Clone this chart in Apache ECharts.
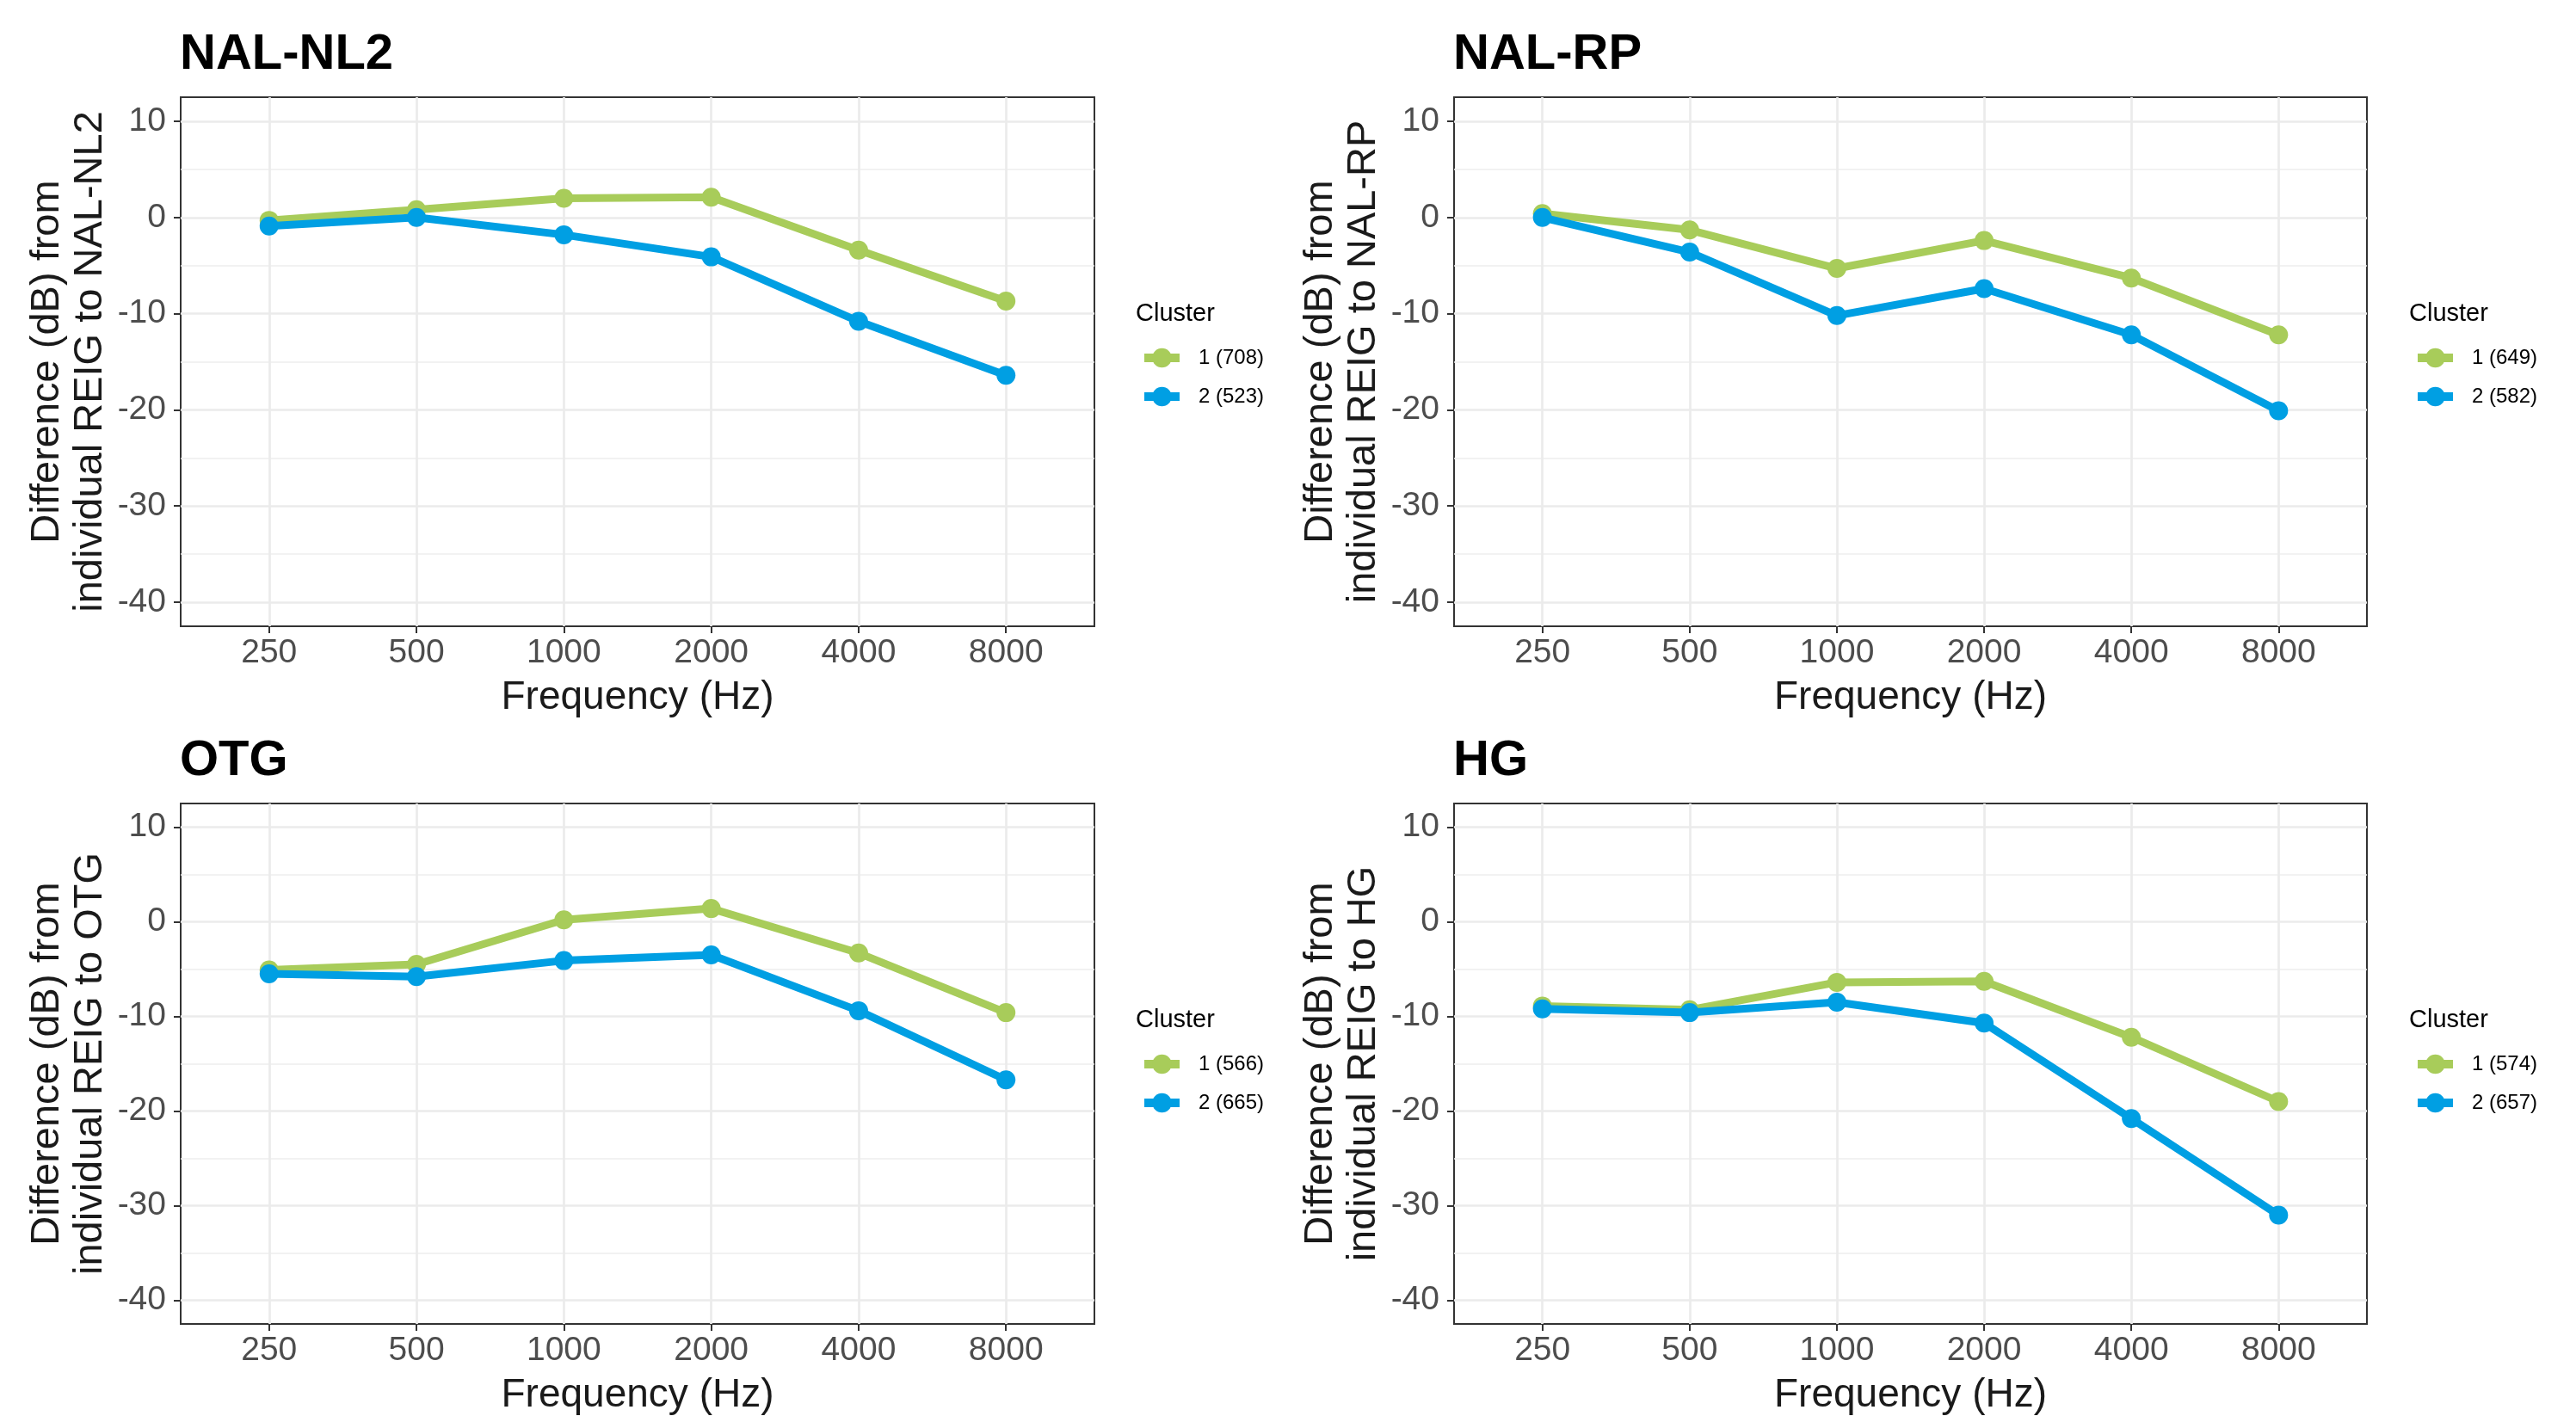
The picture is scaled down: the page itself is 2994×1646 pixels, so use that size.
<!DOCTYPE html>
<html>
<head>
<meta charset="utf-8">
<style>
html,body{margin:0;padding:0;background:#fff;}
#chart{width:2994px;height:1646px;}
</style>
<script src="https://cdn.jsdelivr.net/npm/echarts@6/dist/echarts.min.js"></script>
</head>
<body>
<div id="chart"></div>
<script>
// ---- data ----
const frequencies = ['250', '500', '1000', '2000', '4000', '8000'];
const panelTitles = ['NAL-NL2', 'NAL-RP', 'OTG', 'HG'];
const yTitles = [
  'Difference (dB) from\nindividual REIG to NAL-NL2',
  'Difference (dB) from\nindividual REIG to NAL-RP',
  'Difference (dB) from\nindividual REIG to OTG',
  'Difference (dB) from\nindividual REIG to HG'
];
const xTitle = 'Frequency (Hz)';
const legendTitle = 'Cluster';
const cluster1Labels = ['1 (708)', '1 (649)', '1 (566)', '1 (574)'];
const cluster2Labels = ['2 (523)', '2 (582)', '2 (665)', '2 (657)'];

const nalnl2Cluster1 = [-0.3, 0.8, 2.0, 2.1, -3.4, -8.7];
const nalnl2Cluster2 = [-0.9, 0.0, -1.8, -4.1, -10.8, -16.4];
const nalrpCluster1 = [0.4, -1.3, -5.3, -2.4, -6.3, -12.2];
const nalrpCluster2 = [0.0, -3.6, -10.2, -7.4, -12.2, -20.1];
const otgCluster1 = [-5.1, -4.5, 0.2, 1.4, -3.3, -9.6];
const otgCluster2 = [-5.5, -5.8, -4.1, -3.5, -9.4, -16.7];
const hgCluster1 = [-8.9, -9.3, -6.4, -6.3, -12.2, -19.0];
const hgCluster2 = [-9.2, -9.6, -8.5, -10.7, -20.8, -31.0];

const yMajorTicks = [-40, -30, -20, -10, 0, 10];
const yMinorTicks = [-35, -25, -15, -5, 5];

const cluster1Values = [nalnl2Cluster1, nalrpCluster1, otgCluster1, hgCluster1];
const cluster2Values = [nalnl2Cluster2, nalrpCluster2, otgCluster2, hgCluster2];

// ---- style / layout ----
const green = '#A8CC5A';
const blue = '#009FE3';
const gridBoxes = [
  {left: 210, top: 113, width: 1062, height: 615},
  {left: 1690, top: 113, width: 1061, height: 615},
  {left: 210, top: 934, width: 1062, height: 616},
  {left: 1690, top: 934, width: 1061, height: 616}
];
const FONT = '"Liberation Sans", Arial, sans-serif';

const grids = [], xAxes = [], yAxes = [], series = [], titles = [], legends = [];
const xIdx = frequencies.map((f, i) => i);

gridBoxes.forEach((g, p) => {
  grids.push({left: g.left, top: g.top, width: g.width, height: g.height,
    show: true, borderColor: '#333333', borderWidth: 2, backgroundColor: '#ffffff', containLabel: false});

  xAxes.push({
    type: 'value', gridIndex: p, min: -0.6, max: 5.6, position: 'bottom',
    axisLine: {show: false, onZero: false},
    axisTick: {show: true, customValues: xIdx, length: 8, lineStyle: {color: '#333333', width: 2}},
    axisLabel: {show: true, customValues: xIdx, margin: 12, fontSize: 39, color: '#4D4D4D', fontFamily: FONT,
      formatter: v => frequencies[Math.round(v)] || ''},
    splitLine: {show: true, lineStyle: {color: '#EBEBEB', width: 2.7}},
    name: xTitle, nameLocation: 'middle', nameGap: 60,
    nameTextStyle: {fontSize: 46, color: '#1a1a1a', fontFamily: FONT}
  });

  yAxes.push({
    type: 'value', gridIndex: p, min: -42.5, max: 12.5, position: 'left',
    axisLine: {show: false, onZero: false},
    axisTick: {show: true, customValues: yMajorTicks, length: 8, lineStyle: {color: '#333333', width: 2}},
    axisLabel: {show: true, customValues: yMajorTicks, margin: 17, fontSize: 39, color: '#4D4D4D', fontFamily: FONT},
    splitLine: {show: true, lineStyle: {color: '#EBEBEB', width: 2.7}},
    name: yTitles[p], nameLocation: 'middle', nameGap: 80, nameRotate: 90,
    nameTextStyle: {fontSize: 47, lineHeight: 50, color: '#1a1a1a', fontFamily: FONT, align: 'center'}
  });
  yAxes.push({
    type: 'value', gridIndex: p, min: -42.5, max: 12.5, position: 'right',
    axisLine: {show: false, onZero: false},
    axisTick: {show: false, customValues: yMinorTicks},
    axisLabel: {show: false, customValues: yMinorTicks},
    splitLine: {show: true, lineStyle: {color: '#EEEEEE', width: 1.5}}
  });

  const mk = (name, vals, color, z) => ({
    name: name, type: 'line', xAxisIndex: p, yAxisIndex: p * 2,
    data: vals.map((v, i) => [xIdx[i], v]),
    symbol: 'circle', symbolSize: 22, showSymbol: true,
    itemStyle: {color: color}, lineStyle: {color: color, width: 9},
    emphasis: {disabled: true}, animation: false, z: z
  });
  series.push(mk(cluster1Labels[p], cluster1Values[p], green, 3));
  series.push(mk(cluster2Labels[p], cluster2Values[p], blue, 4));

  titles.push({text: panelTitles[p], left: g.left - 1, top: g.top - 78, padding: 0,
    textStyle: {fontSize: 58, fontWeight: 'bold', color: '#000', fontFamily: FONT}});
  titles.push({text: legendTitle, left: g.left + 1110, top: g.top + 237, padding: 0,
    textStyle: {fontSize: 29, fontWeight: 'normal', color: '#000', fontFamily: FONT}});

  legends.push({
    data: [cluster1Labels[p], cluster2Labels[p]], orient: 'vertical',
    left: g.left + 1115, top: g.top + 291, padding: 0,
    itemWidth: 41, itemHeight: 28, itemGap: 21, selectedMode: false,
    lineStyle: {width: 10},
    textStyle: {fontSize: 24, color: '#000', fontFamily: FONT, padding: [0, 0, 0, 17]}
  });
});

const chart = echarts.init(document.getElementById('chart'), null, {renderer: 'canvas'});
chart.setOption({
  backgroundColor: '#ffffff',
  animation: false,
  title: titles,
  legend: legends,
  grid: grids,
  xAxis: xAxes,
  yAxis: yAxes,
  series: series
});
</script>
</body>
</html>
